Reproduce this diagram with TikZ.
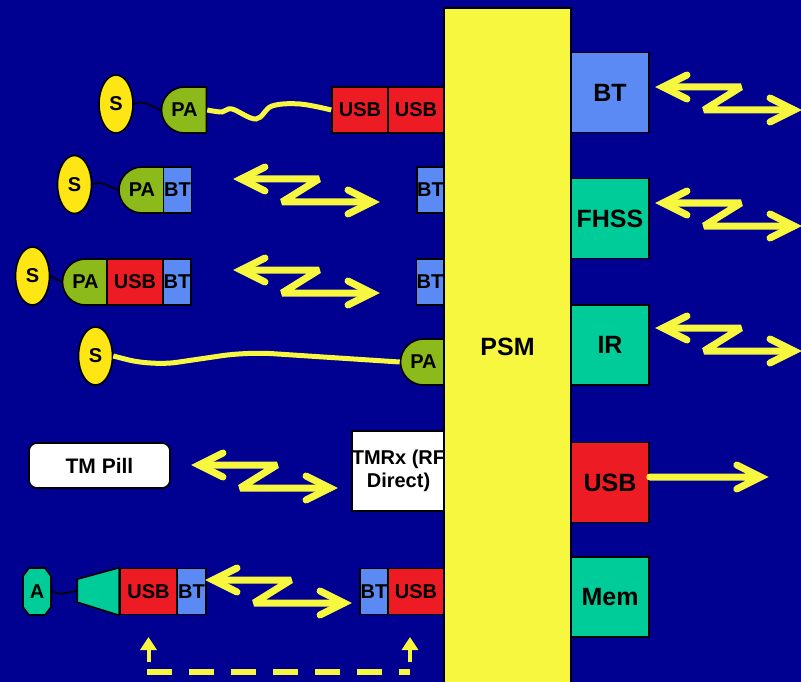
\documentclass[tikz,border=0pt]{standalone}
\usepackage{fontspec}
\setmainfont{Liberation Sans}
\usetikzlibrary{arrows.meta,shapes.geometric,shapes.misc}
\definecolor{navy}{RGB}{0,0,145}
\definecolor{psmyellow}{RGB}{248,247,64}
\definecolor{senseyellow}{RGB}{253,230,20}
\definecolor{btblue}{RGB}{92,138,245}
\definecolor{mint}{RGB}{0,204,153}
\definecolor{usbred}{RGB}{237,28,36}
\definecolor{pagreen}{RGB}{140,186,26}
\tikzset{blk/.style={draw, line width=1.6pt, inner sep=0pt, minimum height=46pt, font=\bfseries\fontsize{20}{23}\selectfont},
  usbb/.style={blk, fill=usbred, minimum width=56pt},
  btb/.style={blk, fill=btblue, minimum width=28pt},
  pab/.style={blk, fill=pagreen, rounded rectangle, rounded rectangle east arc=none, minimum width=42pt},
  sens/.style={blk, ellipse, fill=senseyellow, minimum width=34pt, minimum height=58pt},
  unit/.style={blk, minimum width=78pt, minimum height=80pt, font=\bfseries\fontsize{25}{30}\selectfont},
  zig/.style={draw=psmyellow, line width=7pt, line cap=round, line join=bevel},
  cable/.style={draw=psmyellow, line width=5pt},
  wire/.style={draw, line width=1.6pt},
  radio/.pic={
    \draw[zig, line join=miter] (24,-12) -- (0,0) -- (24,12);
    \draw[zig] (0,0) -- (78,0) -- (41,23) -- (131,23);
    \draw[zig, line join=miter] (107,11) -- (131,23) -- (107,35);}}

\begin{document}
\begin{tikzpicture}[x=1pt,y=-1pt]
  \fill[navy] (0,0) rectangle (801,682);
  \useasboundingbox (0,0) rectangle (801,682);
  % sensor + adaptor chains
  \node[sens] (s1) at (116,104) {S};
  \node[pab] (pa1) at (184.5,110) {PA};
  \node[usbb] (u1a) at (360,110) {USB};
  \node[usbb] (u1b) at (416,110) {USB};
  \node[sens] (s2) at (74.5,184.5) {S};
  \node[pab] (pa2) at (142,190) {PA};
  \node[btb] (bt2) at (177.5,190) {BT};
  \node[btb, minimum width=27pt] (bt2r) at (430.5,190) {BT};
  \node[sens] (s3) at (32.5,276) {S};
  \node[pab] (pa3) at (85.5,282) {PA};
  \node[usbb] (u3) at (135,282) {USB};
  \node[btb] (bt3) at (177,282) {BT};
  \node[btb, minimum width=27pt] (bt3r) at (430,282) {BT};
  \node[sens] (s4) at (95.5,356) {S};
  \node[pab, minimum width=41pt] (pa4) at (423.5,362) {PA};
  % pill and receiver
  \node[blk, fill=white, rounded corners=8pt, minimum width=141pt, minimum height=45pt, font=\bfseries\fontsize{21}{23}\selectfont] (pill) at (99.5,465.5) {TM Pill};
  \node[blk, fill=white, align=center, minimum width=91pt, minimum height=80pt] (tmrx) at (398.5,471) {TMRx (RF\\Direct)};
  % accelerometer chain
  \filldraw[fill=mint, line width=1.6pt] (23,576) -- (29,568) -- (45,568) -- (51,576) -- (51,607) -- (45,615) -- (29,615) -- (23,607) -- cycle;
  \node[blk, draw=none, minimum width=28pt, minimum height=47pt] (a) at (37,591.5) {A};
  \node[usbb, minimum width=57pt] (u6) at (148.5,591.5) {USB};
  \node[btb, minimum width=29pt] (bt6) at (191.5,591.5) {BT};
  \node[btb] (bt6r) at (374,591.5) {BT};
  \node[usbb] (u6r) at (416,591.5) {USB};
  \filldraw[fill=mint, line width=1.6pt] (u6.north west) -- ++(-42,11.5) coordinate (horn) -- ++(0,23) -- (u6.south west) -- cycle;
  \coordinate (hornmid) at ([yshift=-11.5pt]horn);
  % wires and cables
  \draw[wire] (s1.east) to[out=25,in=160] (pa1.west);
  \draw[wire] (s2.east) to[out=25,in=160] (pa2.west);
  \draw[wire] (s3.east) -- (pa3.west);
  \draw[wire] (a.east) to[out=10,in=180] (61,594) -- (hornmid);
  \draw[cable] plot[smooth, tension=0.6] coordinates {(pa1.east) (222,112) (232,109) (256,119) (272,106) (300,104) (u1a.west)};
  \draw[cable, rounded corners=25pt] (s4.east) -- (152,366) -- (247,352) -- (pa4.west);
  % USB feedback path
  \coordinate (fbl) at (u6 |- 0,672);
  \coordinate (fbr) at (410,672);
  \draw[cable, line width=5.5pt, dash pattern=on 25pt off 17pt] ([xshift=-1.5pt]fbl) -- (fbr);
  \foreach \c in {fbl,fbr}
    \draw[cable, line width=4pt, -{Triangle[length=13pt,width=16pt]}] ([yshift=10pt]\c) -- ([yshift=35pt]\c);
  % processing module
  \node[blk, fill=psmyellow, minimum width=127pt, minimum height=679pt, anchor=north, font=\bfseries\fontsize{25}{30}\selectfont] (psm) at (507.5,7) {PSM};
  % output units
  \node[unit, fill=btblue] (rbt) at (610,92.5) {BT};
  \node[unit, fill=mint] (fhss) at (610,218.5) {FHSS};
  \node[unit, fill=mint] (ir) at (610,345) {IR};
  \node[unit, fill=usbred] (rusb) at (610,482.5) {USB};
  \node[unit, fill=mint] (mem) at (610,597) {Mem};
  \draw[zig, line join=miter] ([yshift=5.5pt]rusb.east) -- ++(111,0) ++(-24,-12) -- ++(24,12) -- ++(-24,12);
  % radio links
  \foreach \x/\y in {663/87, 663/203, 663/328, 241/179, 241/270, 199/465, 213/580}
    \pic at (\x,\y) {radio};
\end{tikzpicture}
\end{document}
